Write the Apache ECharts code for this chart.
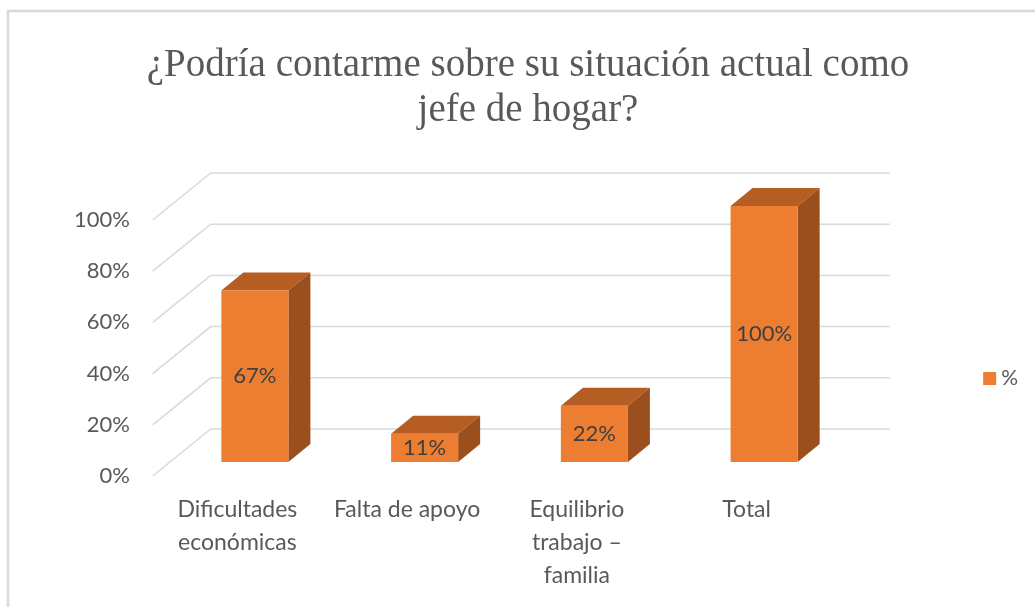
<!DOCTYPE html>
<html>
<head>
<meta charset="utf-8">
<script src="https://cdn.jsdelivr.net/npm/echarts@6/dist/echarts.min.js"></script>
<style>
  html, body { margin: 0; padding: 0; background: #fff; }
  #chart { width: 1035px; height: 607px; }
</style>
</head>
<body>
<div id="chart"></div>
<script>
  var categories = ['Dificultades\neconómicas', 'Falta de apoyo', 'Equilibrio\ntrabajo –\nfamilia', 'Total'];
  var values = [67, 11, 22, 100];
  var yTicks = [0, 20, 40, 60, 80, 100];

  // fake 3d offsets (px)
  var WALL_DX = 40.7, WALL_DY = 33;   // bar plane -> back wall
  var FRONT_DX = 17.3, FRONT_DY = 14; // bar plane -> front edge
  var BAR_DX = 22, BAR_DY = 18;       // bar depth

  var chart = echarts.init(document.getElementById('chart'));

  function renderGrid(params, api) {
    var cs = params.coordSys;
    var y = api.coord([0, api.value(0)])[1];
    var x0 = cs.x, x1 = cs.x + cs.width;
    return {
      type: 'polyline',
      shape: { points: [
        [x0 - FRONT_DX, y + FRONT_DY],
        [x0 + WALL_DX, y - WALL_DY],
        [x1 + WALL_DX, y - WALL_DY]
      ] },
      style: { stroke: '#d9d9d9', lineWidth: 1.5, fill: null },
      silent: true
    };
  }

  function renderBar(params, api) {
    var idx = api.value(0), v = api.value(1);
    var top = api.coord([idx, v]);
    var base = api.coord([idx, 0]);
    var w = api.size([1, 0])[0] * 0.395;
    var x0 = top[0] - w / 2, x1 = top[0] + w / 2;
    var yt = top[1], yb = base[1];
    return {
      type: 'group',
      children: [
        { type: 'polygon', shape: { points: [[x0, yt], [x1, yt], [x1 + BAR_DX, yt - BAR_DY], [x0 + BAR_DX, yt - BAR_DY]] },
          style: { fill: '#b55d23' } },
        { type: 'polygon', shape: { points: [[x1, yt], [x1 + BAR_DX, yt - BAR_DY], [x1 + BAR_DX, yb - BAR_DY], [x1, yb]] },
          style: { fill: '#9a4f1d' } },
        { type: 'rect', shape: { x: x0, y: yt, width: w, height: yb - yt },
          style: { fill: '#ed7d31' } },
        { type: 'text', x: top[0], y: (yt + yb) / 2,
          style: { text: v + '%', fill: '#404040', font: '22px Lato', align: 'center', verticalAlign: 'middle' } }
      ]
    };
  }

  var option = {
    backgroundColor: '#fff',
    title: {
      text: '¿Podría contarme sobre su situación actual como\njefe de hogar?',
      left: 528,
      top: 43,
      padding: 0,
      textAlign: 'center',
      textStyle: { fontFamily: 'Liberation Serif', fontSize: 39, lineHeight: 45, fontWeight: 'normal', color: '#595959' }
    },
    graphic: [{
      type: 'rect', silent: true,
      shape: { x: 8, y: 11, width: 1100, height: 700 },
      style: { fill: null, stroke: '#d9d9d9', lineWidth: 2.5 }
    }],
    legend: {
      data: ['%'],
      orient: 'vertical',
      right: 12,
      top: 363,
      icon: 'rect',
      itemWidth: 13,
      itemHeight: 13,
      itemGap: 4,
      textStyle: { fontFamily: 'Lato', fontSize: 21, color: '#595959' }
    },
    grid: { left: 170, right: 186, top: 206, bottom: 145 },
    xAxis: {
      type: 'category',
      data: categories,
      axisLine: { show: false },
      axisTick: { show: false },
      axisLabel: {
        interval: 0,
        margin: 31,
        fontFamily: 'Lato',
        fontSize: 23,
        lineHeight: 33,
        color: '#595959',
        padding: [0, 35, 0, 0]
      }
    },
    yAxis: {
      type: 'value',
      min: 0,
      max: 100,
      interval: 20,
      axisLine: { show: false },
      axisTick: { show: false },
      splitLine: { show: false },
      axisLabel: {
        margin: 40,
        fontFamily: 'Lato',
        fontSize: 22,
        lineHeight: 28,
        verticalAlign: 'top',
        color: '#595959',
        formatter: '{value}%'
      }
    },
    series: [
      {
        type: 'custom',
        name: 'grid',
        renderItem: renderGrid,
        data: yTicks.map(function (t) { return [t]; }),
        encode: { y: 0 },
        silent: true,
        z: 1
      },
      {
        type: 'custom',
        name: '%',
        renderItem: renderBar,
        itemStyle: { color: '#ed7d31' },
        data: values.map(function (v, i) { return [i, v]; }),
        encode: { x: 0, y: 1 },
        z: 2
      }
    ]
  };

  chart.setOption(option);
</script>
</body>
</html>
